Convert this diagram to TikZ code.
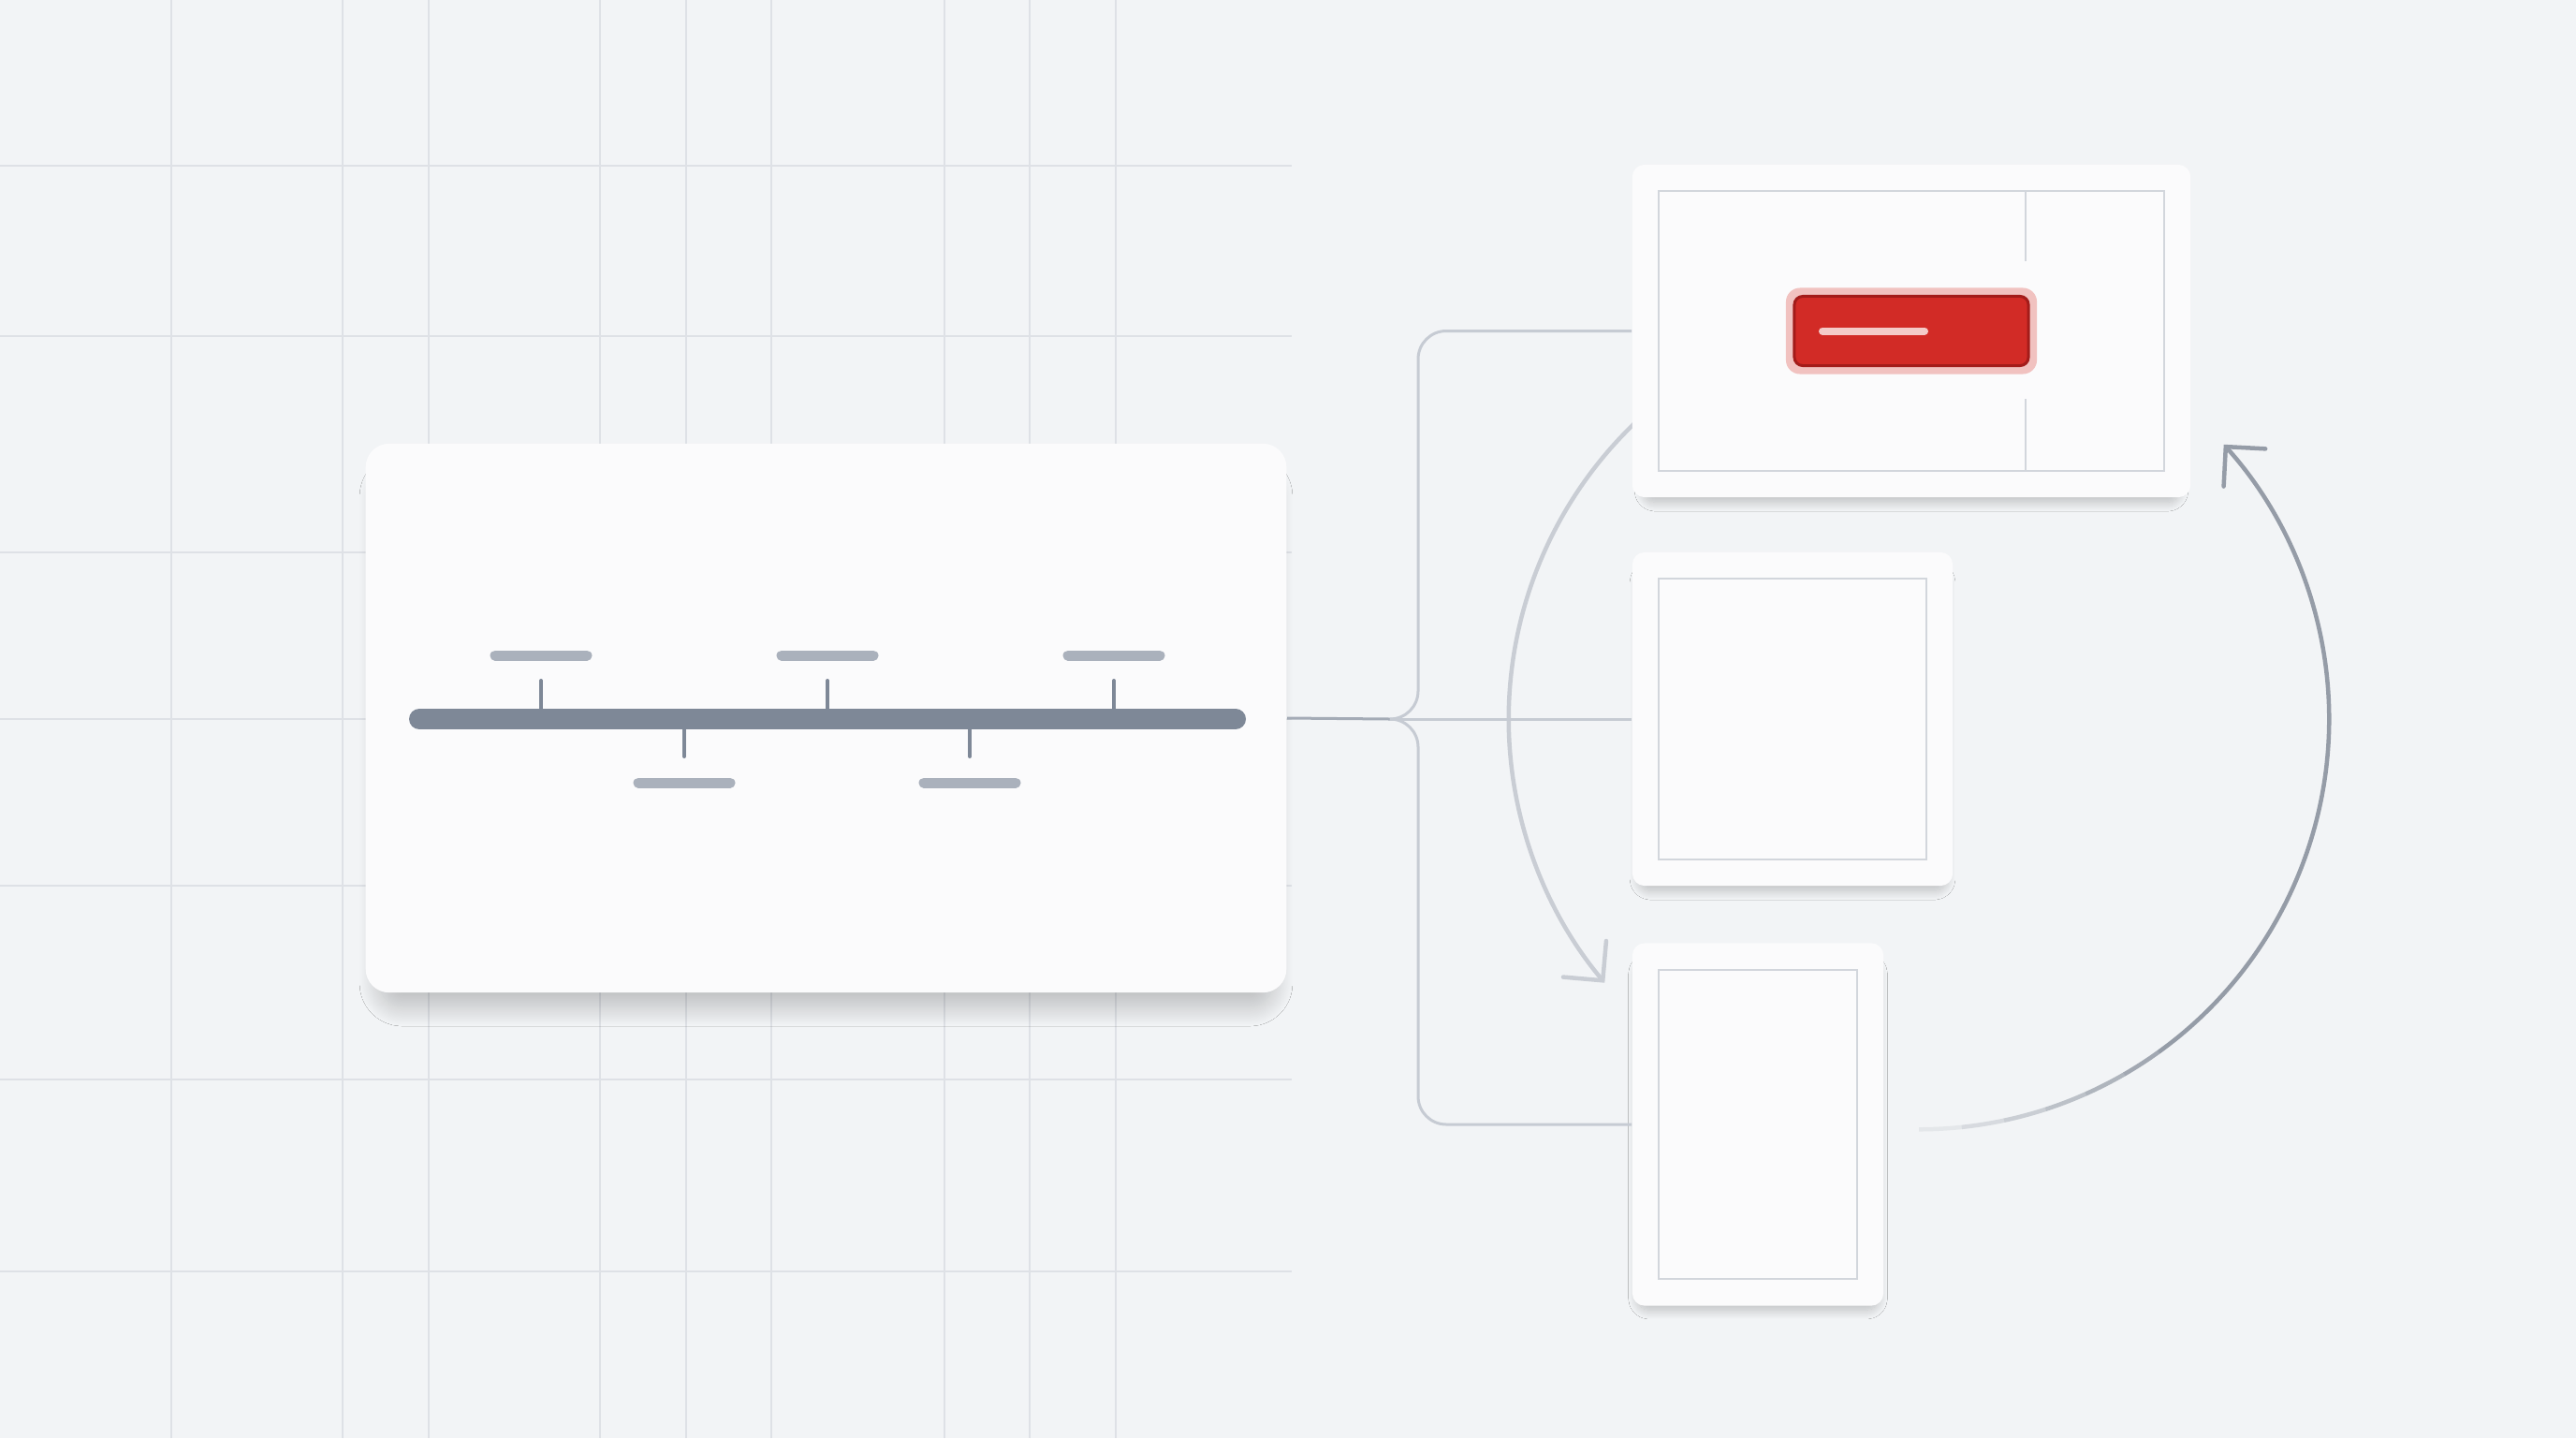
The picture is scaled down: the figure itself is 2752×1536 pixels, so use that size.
\documentclass[tikz,border=0pt]{standalone}
\usetikzlibrary{arrows.meta,calc,shadows.blur}
\definecolor{canvas}{HTML}{F2F4F6}
\definecolor{gridline}{HTML}{DEE1E6}
\definecolor{cardfill}{HTML}{FBFBFC}
\definecolor{framegray}{HTML}{D2D6DC}
\definecolor{linkgray}{HTML}{C6CBD3}
\definecolor{trunkgray}{HTML}{A4ABB6}
\definecolor{barslate}{HTML}{7E8897}
\definecolor{labelslate}{HTML}{AAB1BC}
\definecolor{cycledark}{HTML}{959CA7}
\definecolor{cyclelight}{HTML}{C9CDD4}
\definecolor{alertred}{HTML}{D22B26}
\definecolor{alertedge}{HTML}{A31C1A}
\definecolor{alertglow}{HTML}{F1C2C0}
\definecolor{alertshine}{HTML}{F4CBC8}

\begin{document}
\begin{tikzpicture}[
    x=0.01cm, y=0.01cm,
    grid/.style={gridline, line width=0.02cm},
    panel/.style={fill=cardfill, rounded corners=0.25cm,
      minimum width=9.83cm, minimum height=5.86cm, inner sep=0pt,
      blur shadow={shadow xshift=0cm, shadow yshift=-0.24cm, shadow scale=0.97,
        shadow blur radius=0.22cm, shadow blur steps=30, shadow opacity=24}},
    card/.style={fill=cardfill, rounded corners=0.13cm, inner sep=0pt,
      blur shadow={shadow xshift=0cm, shadow yshift=-0.13cm, shadow scale=0.96,
        shadow blur radius=0.1cm, shadow blur steps=20, shadow opacity=22}},
    frame/.style={framegray, line width=0.02cm},
    bar/.style={barslate, line width=0.22cm, line cap=round},
    tick/.style={barslate, line width=0.04cm, line cap=round},
    label/.style={labelslate, line width=0.11cm, line cap=round},
    link/.style={linkgray, line width=0.03cm},
    trunk/.style={trunkgray, line width=0.03cm},
    cycle/.style={line width=0.045cm, line cap=round},
    barb/.style={-{Straight Barb[length=0.3cm,width=0.6cm,line cap=round]}},
    glow/.style={fill=alertglow, rounded corners=0.15cm, inner sep=0pt,
      minimum width=2.68cm, minimum height=0.92cm},
    button/.style={fill=alertred, draw=alertedge, line width=0.03cm, rounded corners=0.09cm,
      inner sep=0pt, minimum width=2.5cm, minimum height=0.74cm},
    shine/.style={alertshine, line width=0.08cm, line cap=round}
  ]
  % Background and grid.
  \fill[canvas] (0,0) rectangle (2752,-1536);
  \useasboundingbox (0,0) rectangle (2752,-1536);
  \foreach \gx in {183,366,458,641,733,824,1009,1100,1192}
    \draw[grid] (\gx,0) -- (\gx,-1536);
  \foreach \gy in {177,359,590,768,946,1153,1358}
    \draw[grid] (0,-\gy) -- (1380,-\gy);

  % The loop arrows round the cards.
  \coordinate (ring) at (2050,-768);
  \draw[cycle, cyclelight, barb] ([shift={(128:4.38cm)}]ring)
    arc[start angle=128, end angle=220, radius=4.38cm];
  \foreach \a [evaluate=\a as \op using {(\a+96)/42}] in {-90,-84,...,-60}
    \draw[cycle, cycledark, line cap=butt, draw opacity=\op] ([shift={(\a:4.38cm)}]ring)
      arc[start angle=\a, end angle=\a+6, radius=4.38cm];
  \draw[cycle, cycledark, barb] ([shift={(-54:4.38cm)}]ring)
    arc[start angle=-54, end angle=42, radius=4.38cm];

  % Timeline panel.
  \node[panel] (timeline) at (882.5,-767) {};
  \draw[bar] (448,-768) -- (1320,-768);
  \foreach \ex in {578,884,1190} {
    \draw[tick] (\ex,-757) -- (\ex,-727);
    \draw[label] (\ex-49,-700) -- (\ex+49,-700);
  }
  \foreach \ex in {731,1036} {
    \draw[tick] (\ex,-779) -- (\ex,-808);
    \draw[label] (\ex-49,-836) -- (\ex+49,-836);
  }

  % Cards on the right.
  \node[card, minimum width=5.96cm, minimum height=3.55cm] (top) at (2042,-353.5) {};
  \node[card, minimum width=3.42cm, minimum height=3.56cm] (mid) at (1915,-768) {};
  \node[card, minimum width=2.68cm, minimum height=3.87cm] (bot) at (1878,-1201) {};
  \foreach \c in {top,mid,bot}
    \draw[frame] ([shift={(0.29cm,-0.29cm)}]\c.north west) rectangle ([shift={(-0.29cm,0.29cm)}]\c.south east);
  \draw[frame] (2164,-205) -- (2164,-279);
  \draw[frame] (2164,-426) -- (2164,-502);

  % Red button.
  \node[glow] at (top) {};
  \node[button] (btn) at (top) {};
  \draw[shine] ([xshift=-0.95cm]btn.center) -- ([xshift=0.14cm]btn.center);

  % Connectors.
  \coordinate (fork) at (1485,-768);
  \coordinate (spine) at (1515,-768);
  \draw[trunk] (timeline.east) -- (fork);
  \draw[link] (fork) -- (mid.west);
  \draw[link, rounded corners=0.3cm] (fork) -| (spine |- top.west) -- (top.west);
  \draw[link, rounded corners=0.3cm] (fork) -| (spine |- bot.west) -- (bot.west);
\end{tikzpicture}
\end{document}
